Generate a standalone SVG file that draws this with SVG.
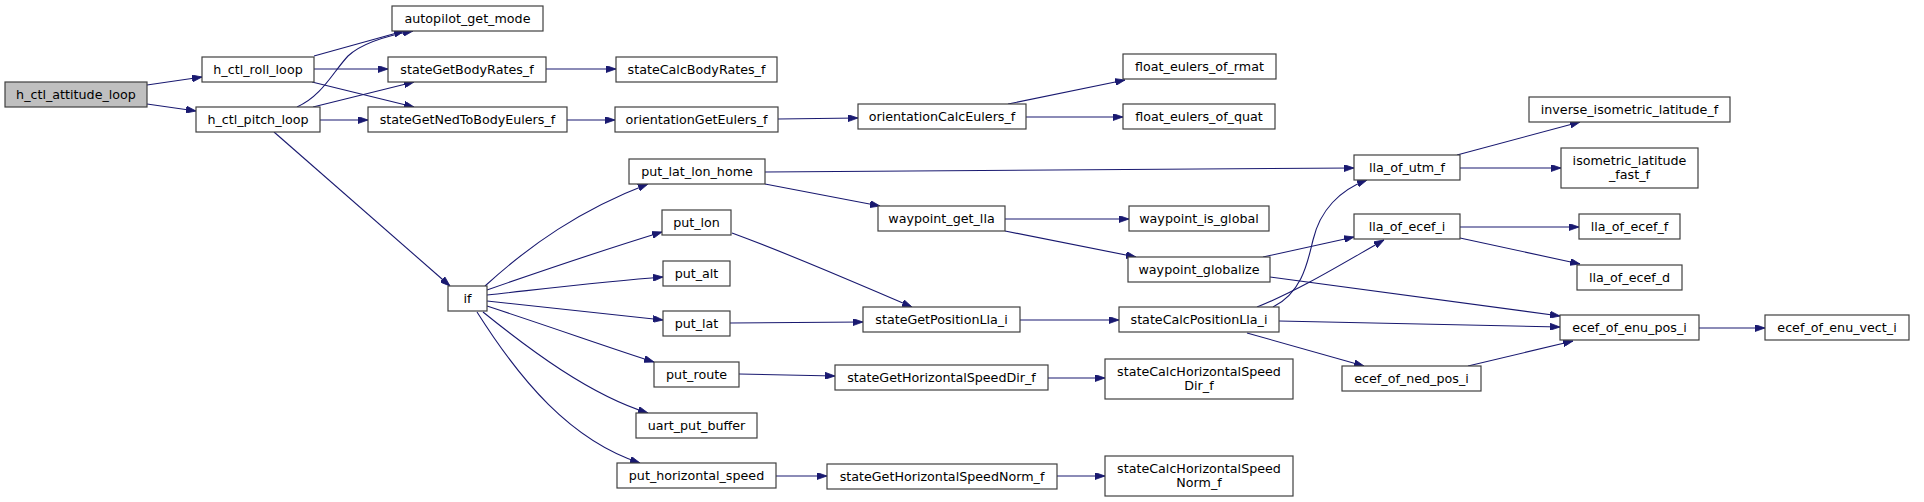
<svg xmlns="http://www.w3.org/2000/svg" width="1924" height="502" viewBox="0 0 1924 502">
<style>
.n rect{fill:#fff;stroke:#404040;stroke-width:1.2}
.g rect{fill:#bfbfbf}
text{font-family:"DejaVu Sans","Liberation Sans",sans-serif;font-size:12.7px;fill:#000;text-anchor:middle}
#edges path{fill:none;stroke:#191970;stroke-width:1.1;marker-end:url(#ah)}
</style>
<defs>
<marker id="ah" viewBox="0 0 10 7" refX="10" refY="3.5" markerUnits="userSpaceOnUse" markerWidth="10" markerHeight="7" orient="auto">
<path d="M0,0 L10,3.5 L0,7 z" fill="#191970" stroke="#191970" stroke-width="0.8"/>
</marker>
</defs>
<rect width="1924" height="502" fill="#fff"/>
<g id="edges">
<path d="M147,85 L202,77"/>
<path d="M147,104 L196,111"/>
<path d="M314,56 L404,31"/>
<path d="M297,107 C322,96 333,72 348,56 C362,43 385,36 413,31"/>
<path d="M314,69 L388,69"/>
<path d="M312,82 L414,107"/>
<path d="M313,107 L414,82"/>
<path d="M320,120 L368,120"/>
<path d="M274,132 L450,286"/>
<path d="M546,69 L616,69"/>
<path d="M567,120 L615,120"/>
<path d="M778,119 L858,118"/>
<path d="M1008,104 L1125,80"/>
<path d="M1026,117 L1123,117"/>
<path d="M485,286 C530,245 580,210 648,184"/>
<path d="M487,290 C550,268 610,248 662,232"/>
<path d="M487,295 C560,287 610,281 663,277"/>
<path d="M487,301 L663,320"/>
<path d="M487,306 C560,330 610,348 654,362"/>
<path d="M483,312 C530,350 590,395 648,413"/>
<path d="M477,312 C520,380 570,440 640,463"/>
<path d="M765,172 L1354,168"/>
<path d="M765,184 L880,206"/>
<path d="M732,233 C800,258 860,285 912,307"/>
<path d="M730,323 L863,322"/>
<path d="M739,374 L835,376"/>
<path d="M776,476 L827,476"/>
<path d="M1048,378 L1105,378"/>
<path d="M1057,476 L1105,476"/>
<path d="M1005,219 L1129,219"/>
<path d="M1005,231 L1136,257"/>
<path d="M1020,320 L1119,320"/>
<path d="M1263,257 L1354,237"/>
<path d="M1273,307 C1303,292 1308,260 1313,240 C1320,210 1340,190 1367,180"/>
<path d="M1257,307 C1300,290 1345,262 1384,240"/>
<path d="M1270,277 L1560,316"/>
<path d="M1279,321 L1560,327"/>
<path d="M1247,333 L1364,366"/>
<path d="M1468,366 L1573,341"/>
<path d="M1699,328 L1765,328"/>
<path d="M1457,155 L1580,122"/>
<path d="M1460,168 L1561,168"/>
<path d="M1460,227 L1579,227"/>
<path d="M1460,238 L1580,264"/>
</g>
<g id="n0" class="n g"><rect x="5" y="82" width="142" height="25"/><text x="76" y="98.5">h_ctl_attitude_loop</text></g>
<g id="n1" class="n"><rect x="202" y="57" width="112" height="25"/><text x="258" y="73.5">h_ctl_roll_loop</text></g>
<g id="n2" class="n"><rect x="196" y="107" width="124" height="25"/><text x="258" y="123.5">h_ctl_pitch_loop</text></g>
<g id="n3" class="n"><rect x="392" y="6" width="151" height="25"/><text x="467.5" y="22.5">autopilot_get_mode</text></g>
<g id="n4" class="n"><rect x="388" y="57" width="158" height="25"/><text x="467" y="73.5">stateGetBodyRates_f</text></g>
<g id="n5" class="n"><rect x="616" y="57" width="161" height="25"/><text x="696.5" y="73.5">stateCalcBodyRates_f</text></g>
<g id="n6" class="n"><rect x="368" y="107" width="199" height="25"/><text x="467.5" y="123.5">stateGetNedToBodyEulers_f</text></g>
<g id="n7" class="n"><rect x="615" y="107" width="163" height="25"/><text x="696.5" y="123.5">orientationGetEulers_f</text></g>
<g id="n8" class="n"><rect x="858" y="104" width="168" height="25"/><text x="942" y="120.5">orientationCalcEulers_f</text></g>
<g id="n9" class="n"><rect x="1123" y="54" width="153" height="25"/><text x="1199.5" y="70.5">float_eulers_of_rmat</text></g>
<g id="n10" class="n"><rect x="1123" y="104" width="152" height="25"/><text x="1199" y="120.5">float_eulers_of_quat</text></g>
<g id="n11" class="n"><rect x="448" y="286" width="39" height="25"/><text x="467.5" y="302.5">if</text></g>
<g id="n12" class="n"><rect x="629" y="159" width="136" height="25"/><text x="697" y="175.5">put_lat_lon_home</text></g>
<g id="n13" class="n"><rect x="662" y="210" width="69" height="25"/><text x="696.5" y="226.5">put_lon</text></g>
<g id="n14" class="n"><rect x="663" y="261" width="67" height="25"/><text x="696.5" y="277.5">put_alt</text></g>
<g id="n15" class="n"><rect x="663" y="311" width="67" height="25"/><text x="696.5" y="327.5">put_lat</text></g>
<g id="n16" class="n"><rect x="654" y="362" width="85" height="25"/><text x="696.5" y="378.5">put_route</text></g>
<g id="n17" class="n"><rect x="636" y="413" width="121" height="25"/><text x="696.5" y="429.5">uart_put_buffer</text></g>
<g id="n18" class="n"><rect x="617" y="463" width="159" height="25"/><text x="696.5" y="479.5">put_horizontal_speed</text></g>
<g id="n19" class="n"><rect x="878" y="206" width="127" height="25"/><text x="941.5" y="222.5">waypoint_get_lla</text></g>
<g id="n20" class="n"><rect x="1129" y="206" width="140" height="25"/><text x="1199" y="222.5">waypoint_is_global</text></g>
<g id="n21" class="n"><rect x="1128" y="257" width="142" height="25"/><text x="1199" y="273.5">waypoint_globalize</text></g>
<g id="n22" class="n"><rect x="863" y="307" width="157" height="25"/><text x="941.5" y="323.5">stateGetPositionLla_i</text></g>
<g id="n23" class="n"><rect x="1119" y="307" width="160" height="25"/><text x="1199" y="323.5">stateCalcPositionLla_i</text></g>
<g id="n24" class="n"><rect x="835" y="365" width="213" height="25"/><text x="941.5" y="381.5">stateGetHorizontalSpeedDir_f</text></g>
<g id="n25" class="n"><rect x="1105" y="359" width="188" height="40"/><text x="1199" y="376">stateCalcHorizontalSpeed</text><text x="1199" y="390">Dir_f</text></g>
<g id="n26" class="n"><rect x="827" y="464" width="230" height="25"/><text x="942" y="480.5">stateGetHorizontalSpeedNorm_f</text></g>
<g id="n27" class="n"><rect x="1105" y="456" width="188" height="40"/><text x="1199" y="473">stateCalcHorizontalSpeed</text><text x="1199" y="487">Norm_f</text></g>
<g id="n28" class="n"><rect x="1354" y="155" width="106" height="25"/><text x="1407" y="171.5">lla_of_utm_f</text></g>
<g id="n29" class="n"><rect x="1354" y="214" width="106" height="25"/><text x="1407" y="230.5">lla_of_ecef_i</text></g>
<g id="n30" class="n"><rect x="1529" y="97" width="201" height="25"/><text x="1629.5" y="113.5">inverse_isometric_latitude_f</text></g>
<g id="n31" class="n"><rect x="1561" y="148" width="137" height="40"/><text x="1629.5" y="165">isometric_latitude</text><text x="1629.5" y="179">_fast_f</text></g>
<g id="n32" class="n"><rect x="1579" y="214" width="101" height="25"/><text x="1629.5" y="230.5">lla_of_ecef_f</text></g>
<g id="n33" class="n"><rect x="1577" y="265" width="105" height="25"/><text x="1629.5" y="281.5">lla_of_ecef_d</text></g>
<g id="n34" class="n"><rect x="1560" y="315" width="139" height="25"/><text x="1629.5" y="331.5">ecef_of_enu_pos_i</text></g>
<g id="n35" class="n"><rect x="1765" y="315" width="144" height="25"/><text x="1837" y="331.5">ecef_of_enu_vect_i</text></g>
<g id="n36" class="n"><rect x="1342" y="366" width="139" height="25"/><text x="1411.5" y="382.5">ecef_of_ned_pos_i</text></g>
</svg>
